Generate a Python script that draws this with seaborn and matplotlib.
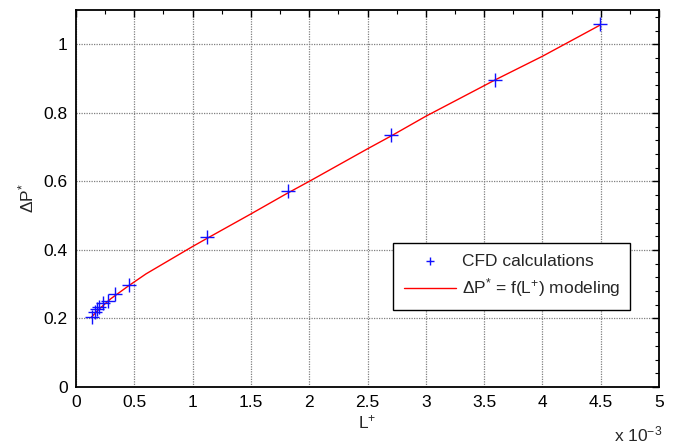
import numpy as np
import pandas as pd
import matplotlib
matplotlib.use("Agg")
import matplotlib.pyplot as plt
import seaborn as sns
from matplotlib.ticker import MultipleLocator, FormatStrFormatter

# CFD results (L+ in units of 1e-3)
cfd_L = [0.134, 0.163, 0.177, 0.200, 0.234, 0.272, 0.334, 0.457,
         1.121, 1.818, 2.699, 3.594, 4.494]
cfd_dP = [0.205, 0.220, 0.227, 0.234, 0.244, 0.252, 0.271, 0.297,
          0.438, 0.571, 0.735, 0.897, 1.060]

# Model curve dP* = f(L+)
model_L = [0.13, 0.20, 0.30, 0.45, 0.60, 0.75, 1.00, 1.12, 1.50, 1.80,
           2.00, 2.50, 2.70, 3.00, 3.60, 4.00, 4.50]
model_dP = [0.203, 0.228, 0.258, 0.295, 0.330, 0.360, 0.410, 0.433, 0.505,
            0.563, 0.600, 0.695, 0.732, 0.790, 0.897, 0.965, 1.057]

x_ticks = [0, 0.5, 1, 1.5, 2, 2.5, 3, 3.5, 4, 4.5, 5]
y_ticks = [0, 0.2, 0.4, 0.6, 0.8, 1.0]

sns.set_style("white")
plt.rcParams["font.family"] = ["Liberation Sans", "DejaVu Sans"]
plt.rcParams["mathtext.fontset"] = "custom"
plt.rcParams["mathtext.rm"] = "Liberation Sans"
plt.rcParams["mathtext.it"] = "Liberation Sans"

FS = 12.5

cfd = pd.DataFrame({"L": cfd_L, "dP": cfd_dP})
model = pd.DataFrame({"L": model_L, "dP": model_dP})

fig = plt.figure(figsize=(6.81, 4.47), dpi=100)
ax = fig.add_axes([0.1116, 0.1342, 0.8561, 0.8434])

sns.scatterplot(data=cfd, x="L", y="dP", ax=ax, marker="+", s=110,
                color="#1010ff", linewidth=1.0, label="CFD calculations",
                zorder=3)
sns.lineplot(data=model, x="L", y="dP", ax=ax, color="#ff0000",
             linewidth=1.0, label=r"$\Delta$P$^{*}$ = f(L$^{+}$) modeling",
             zorder=2)

ax.set_xlim(0, 5)
ax.set_ylim(0, 1.1)
ax.set_xticks(x_ticks)
ax.set_yticks(y_ticks)
ax.xaxis.set_major_formatter(FormatStrFormatter("%g"))
ax.yaxis.set_major_formatter(FormatStrFormatter("%g"))
ax.xaxis.set_minor_locator(MultipleLocator(0.25))
ax.yaxis.set_minor_locator(MultipleLocator(0.04))

ax.grid(True, which="major", linestyle=(0, (1, 1)), color="#808080",
        linewidth=0.9)
ax.tick_params(which="both", direction="in", top=True, right=True,
               colors="black", labelsize=FS)
ax.tick_params(which="major", length=5, width=1.0, pad=6)
ax.tick_params(which="minor", length=3, width=0.8)
for sp in ax.spines.values():
    sp.set_visible(True)
    sp.set_color("black")
    sp.set_linewidth(1.3)

ax.set_xlabel("L$^{+}$", fontsize=FS, labelpad=2)
ax.set_ylabel(r"$\Delta$P$^{*}$", fontsize=FS, labelpad=5)
ax.text(1.005, -0.143, "x 10$^{-3}$", transform=ax.transAxes, fontsize=FS,
        ha="right", va="baseline")

leg = ax.legend(loc="upper left", bbox_to_anchor=(0.529, 0.405),
                fontsize=FS, frameon=True, fancybox=False, framealpha=1,
                edgecolor="black", borderpad=0.6, handlelength=3.05,
                labelspacing=0.45, handletextpad=0.3, markerscale=0.6)
leg.get_frame().set_linewidth(1.0)

fig.savefig("out.png", dpi=100)
